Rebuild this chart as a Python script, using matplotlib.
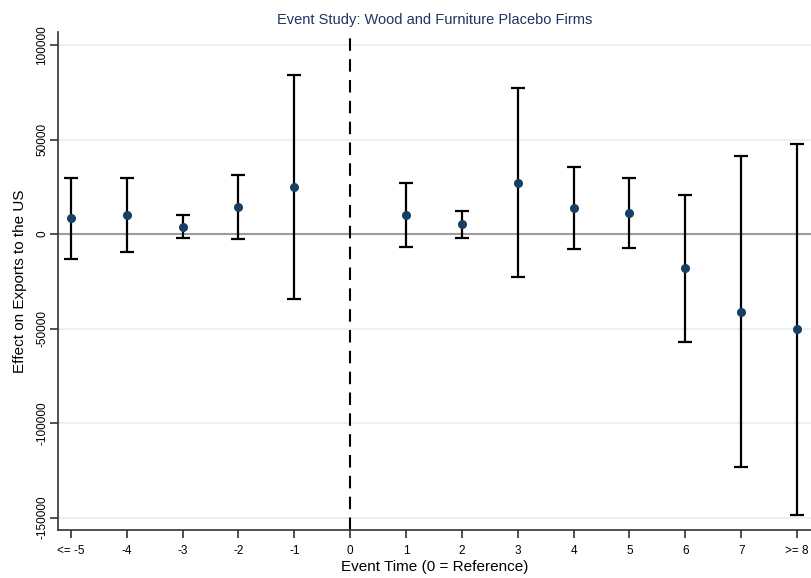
import numpy as np
import matplotlib.pyplot as plt

plt.rcParams['font.family'] = ['Liberation Sans', 'DejaVu Sans']

# event time, point estimates and 95% CI bounds
event_time = [-5, -4, -3, -2, -1, 1, 2, 3, 4, 5, 6, 7, 8]
coef = [8300, 10000, 3900, 14100, 24900, 10200, 5100, 27200, 13900, 11100, -18200, -41300, -50400]
ci_low = [-13000, -9700, -1900, -2800, -34200, -6700, -2100, -22800, -7800, -7400, -57000, -123400, -148700]
ci_high = [29500, 29600, 9900, 31400, 84000, 27000, 12300, 77100, 35600, 29500, 20800, 41300, 47800]

xtick_pos = list(range(-5, 9))
xtick_lab = ['<= -5', '-4', '-3', '-2', '-1', '0', '1', '2', '3', '4', '5', '6', '7', '>= 8']
ytick_pos = [-150000, -100000, -50000, 0, 50000, 100000]

fig = plt.figure(figsize=(8.11, 5.78), dpi=100)
ax = fig.add_axes([58 / 811, 48 / 578, 753 / 811, 498 / 578])

coef = np.array(coef)
yerr = [coef - np.array(ci_low), np.array(ci_high) - coef]

for y in ytick_pos:
    ax.axhline(y, color='#e6eef1', lw=1.2, zorder=0)
ax.axhline(0, color='#9c9c9c', lw=1.5, zorder=1)
ax.axvline(0, color='black', lw=1.5, ls=(0, (6, 4)), zorder=1)

ax.errorbar(event_time, coef, yerr=yerr, fmt='none', ecolor='black',
            elinewidth=1.6, capsize=5, capthick=1.6, zorder=2)
ax.plot(event_time, coef, 'o', color='#173f65', ms=5.5, zorder=3)

ax.set_xlim(-5.23, 8.25)
ax.set_ylim(-156600, 106900)
ax.set_xticks(xtick_pos)
ax.set_xticklabels(xtick_lab, fontsize=8.5)
ax.set_yticks(ytick_pos)
ax.set_yticklabels([str(v) for v in ytick_pos], fontsize=8.5, rotation=90, va='center')
ax.tick_params(axis='both', direction='out', length=6, width=1.2, color='#333333')
ax.tick_params(axis='x', pad=5)
ax.tick_params(axis='y', pad=1)

for side in ['top', 'right']:
    ax.spines[side].set_visible(False)
for side in ['left', 'bottom']:
    ax.spines[side].set_linewidth(1.2)
    ax.spines[side].set_color('#333333')

ax.set_xlabel('Event Time (0 = Reference)', fontsize=11, labelpad=2)
ax.set_ylabel('Effect on Exports to the US', fontsize=11, labelpad=7)
ax.set_title('Event Study: Wood and Furniture Placebo Firms', fontsize=10.5,
             color='#1e3461', pad=6)

fig.savefig('out.png', dpi=100)
